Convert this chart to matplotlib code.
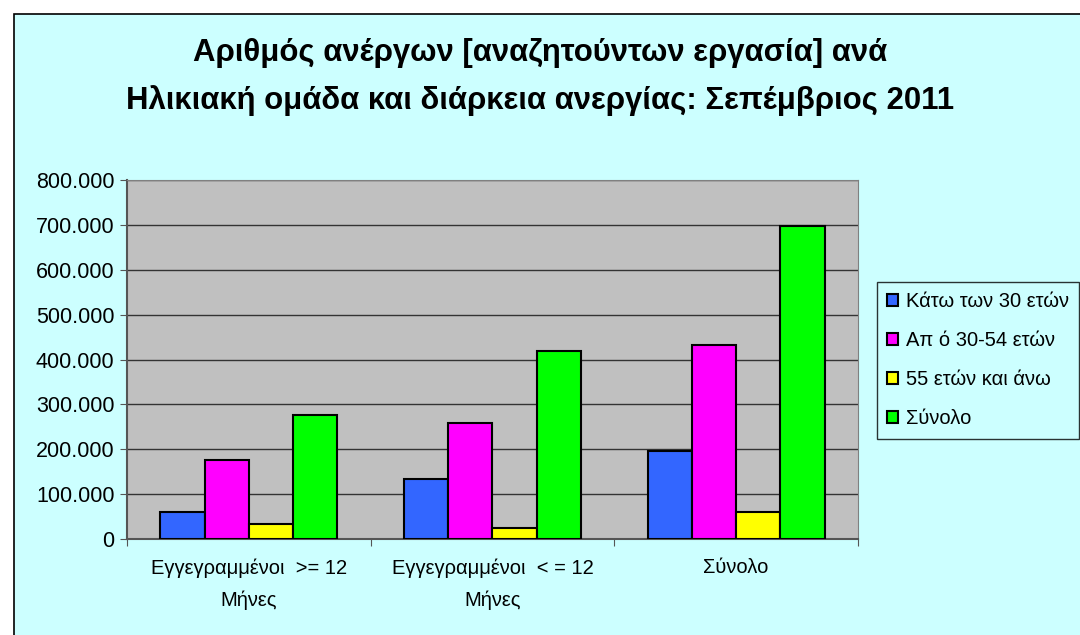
import numpy as np
import matplotlib
matplotlib.use("Agg")
import matplotlib.pyplot as plt
from matplotlib.patches import Rectangle
from matplotlib.ticker import FuncFormatter

plt.rcParams['font.family'] = ['Liberation Sans', 'DejaVu Sans']

categories = ["Εγγεγραμμένοι  >= 12\nΜήνες", "Εγγεγραμμένοι  < = 12\nΜήνες", "Σύνολο"]
series_names = ["Κάτω των 30 ετών", "Απ ό 30-54 ετών", "55 ετών και άνω", "Σύνολο"]
under_30 = [61000, 133000, 196000]
age_30_54 = [177000, 258000, 433000]
over_55 = [34000, 25000, 61000]
total = [276000, 420000, 698000]
colors = ["#3366FF", "#FF00FF", "#FFFF00", "#00FF00"]
y_ticks = [0, 100000, 200000, 300000, 400000, 500000, 600000, 700000, 800000]

W, H = 1080, 635
fig = plt.figure(figsize=(W / 100, H / 100), dpi=100)
fig.patch.set_facecolor("white")

# chart area border (cut off at right and bottom like the original)
fig.patches.append(Rectangle((14 / W, -0.05), 1.2, (H - 14) / H + 0.05,
                             transform=fig.transFigure, facecolor="#CCFFFF",
                             edgecolor="black", linewidth=1.2, zorder=-5))

ax = fig.add_axes([127 / W, (H - 539) / H, (858 - 127) / W, (539 - 180) / H])
ax.set_facecolor("#C0C0C0")

values = [under_30, age_30_54, over_55, total]
x = np.arange(len(categories))
bw = 1 / 5.5
for i, (vals, c, name) in enumerate(zip(values, colors, series_names)):
    ax.bar(x + (i - 1.5) * bw, vals, width=bw, color=c, edgecolor="black",
           linewidth=1.5, label=name, zorder=3)

ax.set_xlim(-0.5, 2.5)
ax.set_ylim(0, 800000)
ax.set_yticks(y_ticks)
ax.yaxis.set_major_formatter(FuncFormatter(lambda v, p: f"{int(v):,}".replace(",", ".")))
ax.grid(axis="y", color="#333333", linewidth=1, zorder=1)

ax.set_xticks([-0.5, 0.5, 1.5, 2.5])
ax.set_xticklabels([])
ax.set_xticks(x, minor=True)
ax.set_xticklabels(categories, minor=True, fontsize=14.5, linespacing=1.8)
ax.tick_params(axis="x", which="minor", length=0, pad=14)
ax.tick_params(axis="x", which="major", length=5, color="#555555", direction="out")
ax.tick_params(axis="y", length=5, color="#555555", labelsize=15.5, pad=4)

for s in ["top", "right"]:
    ax.spines[s].set_color("#808080")
ax.spines["left"].set_color("#555555")
ax.spines["bottom"].set_color("#555555")
ax.spines["left"].set_linewidth(1.5)
ax.spines["bottom"].set_linewidth(1.5)

fig.text(0.5, (H - 53) / H, "Αριθμός ανέργων [αναζητούντων εργασία] ανά",
         ha="center", va="center", fontsize=22.4, fontweight="bold")
fig.text(0.5, (H - 101) / H, "Ηλικιακή ομάδα και διάρκεια ανεργίας: Σεπέμβριος 2011",
         ha="center", va="center", fontsize=22.4, fontweight="bold")

leg = fig.legend(loc="upper left", bbox_to_anchor=(877 / W, (H - 282) / H),
                 fontsize=14.5, frameon=True, fancybox=False, handlelength=0.55,
                 handleheight=0.55, handletextpad=0.4, labelspacing=1.0,
                 borderpad=0.5, borderaxespad=0)
leg.get_frame().set_edgecolor("black")
leg.get_frame().set_facecolor("#CCFFFF")
leg.get_frame().set_linewidth(1)

fig.savefig("out.png", dpi=100)
